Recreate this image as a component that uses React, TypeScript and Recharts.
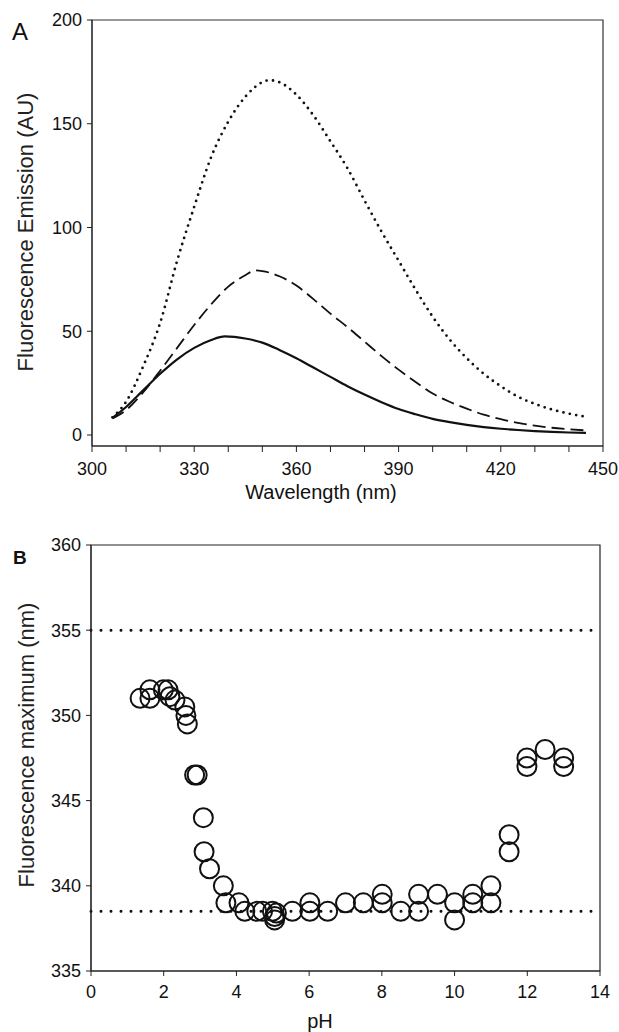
import React from 'react';
import {
  LineChart,
  Line,
  XAxis,
  YAxis,
  ScatterChart,
  Scatter,
  ReferenceLine,
  ReferenceArea,
} from 'recharts';

const FONT = '"Liberation Sans", Arial, Helvetica, sans-serif';
const INK = '#111';

// ---- Panel A data (emission spectra) ----
const solidNm = [306, 310, 315, 320, 325, 330, 335, 339, 345, 350, 355, 360, 365, 370, 375, 380, 385, 390, 395, 400, 405, 410, 415, 420, 425, 430, 435, 440, 445];
const solidAU = [8.3, 13.5, 21.5, 29.5, 36.5, 42, 45.8, 47.5, 46.5, 44.5, 41, 37, 32.5, 28, 23.5, 19.5, 15.8, 12.5, 10, 7.8, 6.2, 4.9, 3.8, 3, 2.4, 1.9, 1.5, 1.2, 1.0];

const dashedNm = [306, 310, 315, 320, 325, 330, 335, 340, 345, 348, 350, 355, 360, 365, 370, 375, 380, 385, 390, 395, 400, 405, 410, 415, 420, 425, 430, 435, 440, 445];
const dashedAU = [8, 12, 20.5, 31, 42, 53, 63, 71.5, 77, 79.3, 79, 76.5, 72, 65.5, 58.5, 52, 45, 38, 31.5, 25.5, 20, 16, 12.7, 9.8, 7.6, 5.8, 4.5, 3.5, 2.8, 2.2];

const dottedNm = [306, 310, 315, 320, 325, 330, 335, 340, 345, 350, 352, 355, 360, 365, 370, 375, 380, 385, 390, 395, 400, 405, 410, 415, 420, 425, 430, 435, 440, 445];
const dottedAU = [8.5, 16, 33, 54, 84, 110, 134, 151, 163, 170, 171, 170, 164, 154, 141.5, 128.5, 113, 98, 84, 70, 57, 46, 37, 29.5, 23.5, 18.5, 15, 12.3, 10.3, 8.8];

const wavelengthTicks = [300, 310, 320, 330, 340, 350, 360, 370, 380, 390, 400, 410, 420, 430, 440, 450];
const wavelengthLabels = [300, 330, 360, 390, 420, 450];
const emissionTicks = [0, 50, 100, 150, 200];

// ---- Panel B data (fluorescence maximum vs pH) ----
const phValues = [1.35, 1.62, 1.62, 1.99, 2.12, 2.17, 2.31, 2.58, 2.61, 2.65, 2.85, 2.92, 3.09, 3.11, 3.26, 3.64, 3.71, 4.07, 4.23, 4.56, 4.72, 4.99, 5.05, 5.05, 5.1, 5.54, 6.02, 6.02, 6.51, 7.0, 7.49, 8.01, 8.01, 8.52, 9.01, 9.01, 9.53, 10.0, 10.0, 10.5, 10.5, 11.0, 11.0, 11.5, 11.5, 11.99, 11.99, 12.49, 13.0, 13.0];
const fluorMax = [351, 351.5, 351, 351.5, 351.5, 351.1, 350.9, 350.5, 350, 349.5, 346.5, 346.5, 344, 342, 341, 340, 339, 339, 338.5, 338.5, 338.5, 338.5, 338, 338.2, 338.4, 338.5, 339, 338.5, 338.5, 339, 339, 339.5, 339, 338.5, 339.5, 338.5, 339.5, 339, 338, 339.5, 339, 340, 339, 343, 342, 347.5, 347, 348, 347.5, 347];

const phTicks = [0, 2, 4, 6, 8, 10, 12, 14];
const maxTicks = [335, 340, 345, 350, 355, 360];
const referenceMaxima = [355, 338.5];

const toRows = (xs: number[], ys: number[]) => xs.map((x, i) => ({ x, y: ys[i] }));

const solidRows = toRows(solidNm, solidAU);
const dashedRows = toRows(dashedNm, dashedAU);
const dottedRows = toRows(dottedNm, dottedAU);
const scatterRows = toRows(phValues, fluorMax);

const WaveTick = (props: any) => {
  const { x, y, payload } = props;
  const v = payload.value;
  if (!wavelengthLabels.includes(v)) return <g />;
  return (
    <text x={x} y={y} dy="0.71em" textAnchor="middle" fontSize={18} fill={INK} fontFamily={FONT}>
      {v}
    </text>
  );
};

const Ring = (props: any) => {
  const { cx, cy } = props;
  return <circle cx={cx} cy={cy} r={9.5} fill="none" stroke={INK} strokeWidth={2} />;
};

const tickStyle = { fontSize: 18, fill: INK, fontFamily: FONT };

export default function App() {
  return (
    <div style={{ position: 'absolute', left: 0, top: 0, width: 619, height: 1032, background: '#fff' }}>
      <div style={{ position: 'absolute', left: 0, top: 0 }}>
        <LineChart width={619} height={520} margin={{ top: 20, right: 16, bottom: 44, left: 32 }}>
          <XAxis
            type="number"
            dataKey="x"
            domain={[300, 450]}
            ticks={wavelengthTicks}
            tick={<WaveTick />}
            tickSize={6}
            tickMargin={10}
            height={30}
            interval={0}
            allowDataOverflow
            axisLine={{ stroke: '#222' }}
            tickLine={{ stroke: '#222' }}
          />
          <YAxis
            type="number"
            domain={[-5.3, 200]}
            ticks={emissionTicks}
            width={60}
            tickSize={5}
            tickMargin={5}
            interval={0}
            allowDataOverflow
            tick={tickStyle}
            axisLine={{ stroke: '#222' }}
            tickLine={{ stroke: '#222' }}
          />
          <ReferenceArea x1={300} x2={450} y1={-5.3} y2={200} fill="none" stroke="#333" strokeWidth={1.2} ifOverflow="extendDomain" />
          <Line data={dottedRows} dataKey="y" type="monotone" stroke={INK} strokeWidth={2.8} strokeDasharray="0 6.5" strokeLinecap="round" dot={false} isAnimationActive={false} />
          <Line data={dashedRows} dataKey="y" type="monotone" stroke={INK} strokeWidth={1.8} strokeDasharray="13 6" dot={false} isAnimationActive={false} />
          <Line data={solidRows} dataKey="y" type="monotone" stroke={INK} strokeWidth={2.2} dot={false} isAnimationActive={false} />
        </LineChart>
      </div>
      <div style={{ position: 'absolute', left: 0, top: 520 }}>
        <ScatterChart width={619} height={512} margin={{ top: 25, right: 19, bottom: 31, left: 31 }}>
          <XAxis
            type="number"
            dataKey="x"
            domain={[0, 14]}
            ticks={phTicks}
            interval={0}
            height={30}
            tickSize={5}
            tickMargin={9}
            allowDataOverflow
            tick={tickStyle}
            axisLine={{ stroke: '#222' }}
            tickLine={{ stroke: '#222' }}
          />
          <YAxis
            type="number"
            dataKey="y"
            domain={[335, 360]}
            ticks={maxTicks}
            interval={0}
            width={60}
            tickSize={5}
            tickMargin={5}
            allowDataOverflow
            tick={tickStyle}
            axisLine={{ stroke: '#222' }}
            tickLine={{ stroke: '#222' }}
          />
          <ReferenceArea x1={0} x2={14} y1={335} y2={360} fill="none" stroke="#222" strokeWidth={1.2} />
          {referenceMaxima.map((v) => (
            <ReferenceLine key={v} y={v} stroke={INK} strokeWidth={3} strokeDasharray="0 10" strokeLinecap="round" />
          ))}
          <Scatter data={scatterRows} dataKey="y" shape={<Ring />} isAnimationActive={false} />
        </ScatterChart>
      </div>
      <svg
        width={619}
        height={1032}
        style={{ position: 'absolute', left: 0, top: 0, pointerEvents: 'none' }}
        fontFamily={FONT}
      >
        <text x={12} y={40} fontSize={24} fill={INK}>A</text>
        <text x={33} y={232} fontSize={22} fill="#222" textAnchor="middle" transform="rotate(-90, 33, 232)">
          Fluorescence Emission (AU)
        </text>
        <text x={321} y={499} fontSize={20} fill={INK} textAnchor="middle">Wavelength (nm)</text>
        <text x={13} y={564} fontSize={19} fontWeight="bold" fill={INK}>B</text>
        <text x={34} y={745} fontSize={22} fill="#222" textAnchor="middle" transform="rotate(-90, 34, 745)">
          Fluorescence maximum (nm)
        </text>
        <text x={320} y={1028} fontSize={20} fill={INK} textAnchor="middle">pH</text>
      </svg>
    </div>
  );
}
